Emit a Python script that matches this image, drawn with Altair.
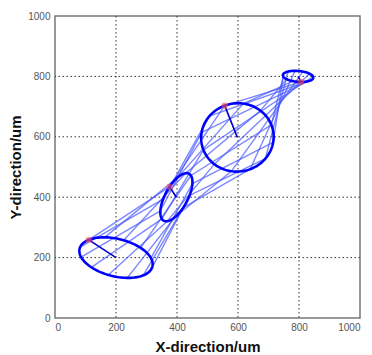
import altair as alt
import numpy as np
import pandas as pd

# Ellipse parameters (data units, um / degrees)
ELL_ID = ["E1", "E2", "E3", "E4"]
ELL_CX = [200, 398, 598, 797]
ELL_CY = [200, 400, 598, 800]
ELL_A = [123, 88, 119, 50]
ELL_B = [62, 37, 113, 18]
ELL_ANGLE = [-14, 62, 10, -5]
ELL_START = [145, 77, 101, -77]   # parametric angle of the red start point

GRID_VALUES = [200, 400, 600, 800]
TICK_VALUES = [0, 200, 400, 600, 800, 1000]
N_LINES = 12


def ell_point(i, t_deg):
    t = np.deg2rad(t_deg)
    th = np.deg2rad(ELL_ANGLE[i])
    x = ELL_A[i] * np.cos(t) * np.cos(th) - ELL_B[i] * np.sin(t) * np.sin(th)
    y = ELL_A[i] * np.cos(t) * np.sin(th) + ELL_B[i] * np.sin(t) * np.cos(th)
    return ELL_CX[i] + x, ELL_CY[i] + y


# outlines
rows = []
for i, eid in enumerate(ELL_ID):
    for k in range(121):
        x, y = ell_point(i, k * 3.0)
        rows.append({"id": eid, "k": k, "x": x, "y": y})
outline = pd.DataFrame(rows)

# connecting lines between consecutive ellipses
seg = []
for i in range(len(ELL_ID) - 1):
    for k in range(N_LINES):
        x1, y1 = ell_point(i, ELL_START[i] + 360.0 * k / N_LINES)
        x2, y2 = ell_point(i + 1, ELL_START[i + 1] + 360.0 * k / N_LINES)
        seg.append({"x": x1, "y": y1, "x2": x2, "y2": y2})
segs = pd.DataFrame(seg)

# radius lines + start markers
rad = []
for i in range(len(ELL_ID)):
    mx, my = ell_point(i, ELL_START[i])
    rad.append({"x": ELL_CX[i], "y": ELL_CY[i], "x2": mx, "y2": my})
rads = pd.DataFrame(rad)

FONT = "Liberation Sans"
xs = alt.Scale(domain=[0, 1000], nice=False)
ys = alt.Scale(domain=[0, 1000], nice=False)

xaxis = alt.Axis(values=TICK_VALUES, format="d", grid=False, ticks=False, domain=False,
                 labelFont=FONT, labelFontSize=10, labelColor="#555555",
                 labelPadding=4, title="X-direction/um", titleFont=FONT,
                 titleFontSize=15, titleFontWeight="bold", titleColor="#111111",
                 titleY=28, titleBaseline="middle")
yaxis = alt.Axis(values=TICK_VALUES, format="d", grid=False, ticks=False, domain=False,
                 labelFont=FONT, labelFontSize=10, labelColor="#555555",
                 labelPadding=5, title="Y-direction/um", titleFont=FONT,
                 titleFontSize=15, titleFontWeight="bold", titleColor="#111111",
                 titleX=-40, titleY=151, titleAngle=270, titleAlign="center",
                 titleBaseline="middle")

grid_df = pd.DataFrame({"v": GRID_VALUES})
vgrid = alt.Chart(grid_df).mark_rule(color="#333333", strokeWidth=1,
                                     strokeDash=[1.5, 2.5]).encode(
    x=alt.X("v:Q", scale=xs, axis=xaxis))
hgrid = alt.Chart(grid_df).mark_rule(color="#333333", strokeWidth=1,
                                     strokeDash=[1.5, 2.5]).encode(
    y=alt.Y("v:Q", scale=ys, axis=yaxis))

conn = alt.Chart(segs).mark_rule(color="#4455ff", strokeWidth=1.4,
                                 opacity=0.7).encode(
    x=alt.X("x:Q", scale=xs), y=alt.Y("y:Q", scale=ys), x2="x2:Q", y2="y2:Q")

ell = alt.Chart(outline).mark_line(color="#0000ff", strokeWidth=2.6).encode(
    x=alt.X("x:Q", scale=xs), y=alt.Y("y:Q", scale=ys),
    detail="id:N", order="k:Q")

radl = alt.Chart(rads).mark_rule(color="#0000cc", strokeWidth=1.6).encode(
    x=alt.X("x:Q", scale=xs), y=alt.Y("y:Q", scale=ys), x2="x2:Q", y2="y2:Q")

marks = alt.Chart(rads).mark_point(shape="circle", filled=True, size=40,
                                   color="#ff5050", opacity=0.6).encode(
    x=alt.X("x2:Q", scale=xs), y=alt.Y("y2:Q", scale=ys))

chart = alt.layer(vgrid, hgrid, conn, ell, radl, marks).properties(
    width=305, height=302,
    autosize=alt.AutoSizeParams(type="none"),
    padding={"left": 55, "top": 16, "right": 12, "bottom": 37},
    background="white",
).configure_view(stroke="#777777", strokeWidth=1.5)

chart.save("out.html", embed_options={"renderer": "svg", "actions": False})
